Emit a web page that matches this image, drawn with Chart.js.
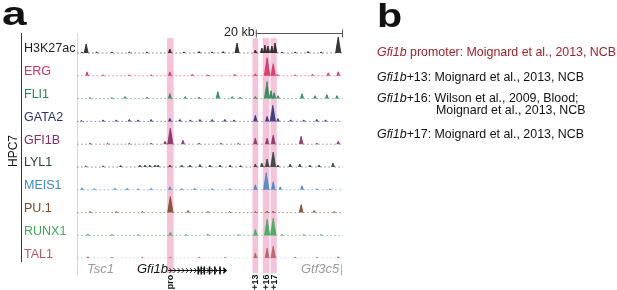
<!DOCTYPE html>
<html><head><meta charset="utf-8">
<script src="https://cdn.jsdelivr.net/npm/chart.js@4"></script>
<style>
html,body{margin:0;padding:0;background:#fff;}
#wrap{position:relative;width:617px;height:290px;overflow:hidden;font-family:"Liberation Sans",Arial,sans-serif;color:#111;}
#c{position:absolute;left:0;top:0;}
.t{position:absolute;white-space:nowrap;line-height:1;}
.rot{position:absolute;white-space:nowrap;line-height:1;transform:translate(-50%,-50%) rotate(-90deg);}
</style></head>
<body><div id="wrap"><canvas id="c" width="617" height="290"></canvas></div>
<script>
// ---------- data (x in kb, heights in signal units) ----------
const trackNames  = ["H3K27ac","ERG","FLI1","GATA2","GFI1B","LYL1","MEIS1","PU.1","RUNX1","TAL1"];
const trackColors = ["#1e1e1e","#dc2d5e","#23894d","#27307c","#8a2a60","#2c3c3c","#3f88c9","#7d4626","#3caa57","#b85a60"];

const h3k27ac = [[1.1,1],[2.1,9],[4.5,1],[8,1],[12,1],[16,1],[21.3,4],[24.5,1],[28,1.5],[31,1],[33.5,1.5],[36.7,10],[40.9,3],[42.4,5],[43.1,8],[43.8,7],[44.7,7],[45.4,10],[47,1],[50,1],[53,1.5],[56,1],[59.9,16]];
const erg     = [[2.3,4],[6,1],[12,1],[17,1],[21.3,4],[26.4,1.5],[30,1],[36.2,1.5],[40.9,2],[43.6,18],[45.0,12],[46,1.5],[50,1],[54,1.5],[57.6,3],[59.9,4]];
const fli1    = [[3,1],[8,1],[11,2],[16.1,1.5],[21.3,5],[24.8,2],[28,1.5],[32.3,7],[35.6,2],[37.4,1.5],[40.9,2],[43.6,17],[44.5,8],[45.2,6],[46.1,3],[51.6,5],[54.6,3],[57.3,4],[59.6,3]];
const gata2   = [[1,1],[6,1.5],[9,1.5],[12,2],[14,1.5],[17,2],[21.3,3],[23.6,2],[26,1.5],[28.2,2],[31,2],[33.9,2],[36,1.5],[40.9,6],[43.6,5],[44.9,16],[46.1,3],[49,1.5],[52,1.5],[55,2],[57,1.5]];
const gfi1b   = [[3,1],[7,1],[12,1],[17,1],[20.2,3],[21.4,16],[24.3,4],[28,1],[33,1],[37,1],[40.9,6],[43.6,6],[45.0,9],[51.4,8],[55,1],[59.9,3]];
const lyl1    = [[2,1],[6,1],[10,1.5],[14.4,2],[15.6,2],[16.7,2],[17.9,2],[18.6,2],[21.3,2],[24,2],[25.9,2],[28.2,2.5],[30.5,2],[32.8,2],[35.1,2],[37.5,1.5],[40.9,3],[42.4,4],[43.6,8],[45.0,15],[46.1,2],[48.9,3],[51.1,3],[53.4,2],[55.5,2],[58.7,4]];
const meis1   = [[1.1,2],[4,1],[8.7,1.5],[11.5,1.5],[14,1],[17,1.5],[21.3,3],[24,1],[27,1.5],[31,1],[35,1],[40.9,5],[43.4,17],[45.0,8],[46.6,3],[51.6,4],[55,1],[58,1]];
const pu1     = [[3,1],[9,1],[15,1],[21.4,16],[25.5,2],[30,1],[35,1],[40.9,1],[43.6,1.5],[45.0,1.5],[51.4,8],[54.4,2],[59,1]];
const runx1   = [[2.5,1.5],[8,1],[14,1],[21.4,3],[25,1],[30,1.5],[37,1],[40.9,6],[43.6,16],[45.0,17],[47,1],[52,1],[56,1]];
const tal1    = [[2.5,1.5],[8,1],[15,1],[21.4,1],[28,1],[34,1],[40.9,5],[43.6,10],[45.0,12],[50,1],[55,1],[59.9,1.5]];
const tracks = [h3k27ac, erg, fli1, gata2, gfi1b, lyl1, meis1, pu1, runx1, tal1];

const regionNames   = ["pro","+13","+16","+17"];
const regionCenters = [21.4, 40.9, 43.35, 45.1];
const regionWidths  = [1.5, 1.3, 1.5, 1.4];

const genomeRange = [0, 61];
const scaleBarKb  = [41, 61];
const gfi1bGene   = [20.9, 34.3];
const gfi1bExons  = [27.8, 28.5, 29.2, 30.4, 31.6, 32.8];
const gtf3c5Start = 60.6;

// ---------- build chart ----------
const N = tracks.length, LANE = 22.8;
function peaksToPoints(peaks){
  const s = peaks.slice().sort((a,b)=>a[0]-b[0]);
  const pts = [{x:genomeRange[0], y:0}];
  s.forEach((p,i)=>{
    const w = 0.25 + 0.022*p[1];
    const prev = i>0 ? s[i-1][0] : -1e9, next = i<s.length-1 ? s[i+1][0] : 1e9;
    const wl = Math.min(w,(p[0]-prev)/2), wr = Math.min(w,(next-p[0])/2);
    pts.push({x:p[0]-wl,y:0},{x:p[0],y:p[1]},{x:p[0]+wr,y:0});
  });
  pts.push({x:genomeRange[1], y:0});
  return pts;
}
function hexA(h,a){const n=parseInt(h.slice(1),16);return `rgba(${n>>16},${(n>>8)&255},${n&255},${a})`;}

const scales = { x:{type:'linear', min:genomeRange[0], max:genomeRange[1], display:false} };
const datasets = tracks.map((t,i)=>{
  const lo = -(N-1-i)*LANE;
  scales['y'+i] = {type:'linear', display:false, min:lo, max:lo+N*LANE};
  const faint = hexA(trackColors[i],0.7);
  return {
    label: trackNames[i], data: peaksToPoints(t), yAxisID:'y'+i,
    borderColor: trackColors[i], backgroundColor: hexA(trackColors[i],0.88),
    borderWidth: 0.8, pointRadius:0, tension:0, fill:{value:0},
    segment:{
      borderDash: c => (c.p0.parsed.y===0 && c.p1.parsed.y===0) ? [1.6,2.4] : undefined,
      borderColor: c => (c.p0.parsed.y===0 && c.p1.parsed.y===0) ? faint : undefined
    }
  };
});

const decor = {
  id:'decor',
  beforeDatasetsDraw(chart){
    const ctx=chart.ctx, x=chart.scales.x, a=chart.chartArea;
    ctx.save();
    ctx.fillStyle='#f6c2da';
    regionCenters.forEach((c,i)=>{
      const l=x.getPixelForValue(c-regionWidths[i]/2), r=x.getPixelForValue(c+regionWidths[i]/2);
      ctx.fillRect(l, a.top+8, r-l, (a.bottom+15)-(a.top+8));
    });
    ctx.strokeStyle='#f5c9d9'; ctx.lineWidth=1;
    const lx=Math.round(x.getPixelForValue(genomeRange[0]))+0.5;
    ctx.beginPath(); ctx.moveTo(lx,a.top+3); ctx.lineTo(lx,a.bottom+17); ctx.stroke();
    ctx.restore();
  },
  afterDraw(chart){
    const ctx=chart.ctx, x=chart.scales.x, a=chart.chartArea;
    ctx.save();
    // scale bar
    const sy=Math.round(a.top+3)+0.5, s0=x.getPixelForValue(scaleBarKb[0]), s1=x.getPixelForValue(scaleBarKb[1]);
    ctx.strokeStyle='#555'; ctx.lineWidth=1;
    ctx.beginPath(); ctx.moveTo(s0,sy); ctx.lineTo(s1,sy);
    ctx.moveTo(s0+0.5,sy-4); ctx.lineTo(s0+0.5,sy+4);
    ctx.moveTo(s1-0.5,sy-4); ctx.lineTo(s1-0.5,sy+4); ctx.stroke();
    // gene model
    const gy=Math.round(a.bottom+12)+0.5, g0=x.getPixelForValue(gfi1bGene[0]), g1=x.getPixelForValue(gfi1bGene[1]);
    ctx.strokeStyle='#111'; ctx.fillStyle='#111'; ctx.lineWidth=1;
    ctx.beginPath(); ctx.moveTo(g0,gy); ctx.lineTo(g1,gy); ctx.stroke();
    ctx.lineWidth=0.9;
    for(let k=gfi1bGene[0]+0.6;k<gfi1bGene[1]-0.3;k+=0.95){
      const px=x.getPixelForValue(k);
      ctx.beginPath(); ctx.moveTo(px-1.5,gy-2.5); ctx.lineTo(px+1,gy); ctx.lineTo(px-1.5,gy+2.5); ctx.stroke();
    }
    gfi1bExons.forEach(e=>{ const px=x.getPixelForValue(e); ctx.fillRect(px-0.8,gy-4,1.6,8); });
    ctx.beginPath(); ctx.moveTo(g1-3,gy-3.5); ctx.lineTo(g1+0.5,gy); ctx.lineTo(g1-3,gy+3.5); ctx.closePath(); ctx.fill();
    // Gtf3c5 start tick
    const tx=Math.round(x.getPixelForValue(gtf3c5Start))+0.5;
    ctx.strokeStyle='#aaa'; ctx.beginPath(); ctx.moveTo(tx,gy-6); ctx.lineTo(tx,gy+5); ctx.stroke();
    // HPC7 bracket line
    ctx.strokeStyle='#333'; ctx.lineWidth=1;
    ctx.beginPath(); ctx.moveTo(21.5,33); ctx.lineTo(21.5,262); ctx.stroke();
    ctx.restore();
  }
};

const chart = new Chart(document.getElementById('c'), {
  type:'line',
  data:{datasets},
  options:{
    responsive:false, animation:false, devicePixelRatio:1,
    layout:{padding:{left:77, right:274, top:53-LANE, bottom:290-(53+LANE*(N-1))}},
    plugins:{legend:{display:false}, tooltip:{enabled:false}},
    scales
  },
  plugins:[decor]
});

// ---------- text ----------
const wrap=document.getElementById('wrap');
function txt(html,x,baseline,fs,css){
  const d=document.createElement('div'); d.className='t'; d.innerHTML=html;
  d.style.left=x+'px'; d.style.top=(baseline-0.8465*fs)+'px'; d.style.fontSize=fs+'px';
  if(css) d.style.cssText+=css; wrap.appendChild(d); return d;
}
function rot(html,cx,cy,fs,css){
  const d=document.createElement('div'); d.className='rot'; d.innerHTML=html;
  d.style.left=cx+'px'; d.style.top=cy+'px'; d.style.fontSize=fs+'px';
  if(css) d.style.cssText+=css; wrap.appendChild(d); return d;
}
txt('a',2,25,34,'font-weight:bold;transform:scaleX(1.3);transform-origin:left;');
txt('b',377,27,33,'font-weight:bold;transform:scaleX(1.25);transform-origin:left;');
rot('HPC7',13,151,12);
trackNames.forEach((n,i)=>{
  const y=chart.scales['y'+i].getPixelForValue(0);
  txt(n,24,y,12.5,'color:'+trackColors[i]+';');
});
txt('20 kb',224,37,12.5,'color:#222;');
txt('<i>Tsc1</i>',87,273,13,'color:#9a9a9a;');
txt('<i>Gfi1b</i>',137,273,13,'color:#111;');
txt('<i>Gtf3c5</i>',301,273,13,'color:#9a9a9a;');
regionNames.forEach((n,i)=>{
  const cx=chart.scales.x.getPixelForValue(regionCenters[i]);
  rot(n,cx,281.5,9,'font-weight:bold;');
});
const fsB=12.4;
txt('<i>Gfi1b</i> promoter: Moignard et al., 2013, NCB',377,56,fsB,'color:#a3232b;');
txt('<i>Gfi1b</i>+13: Moignard et al., 2013, NCB',377,81,fsB);
txt('<i>Gfi1b</i>+16: Wilson et al., 2009, Blood;',377,102,fsB);
txt('Moignard et al., 2013, NCB',436,114,fsB);
txt('<i>Gfi1b</i>+17: Moignard et al., 2013, NCB',377,138,fsB);
</script></body></html>
